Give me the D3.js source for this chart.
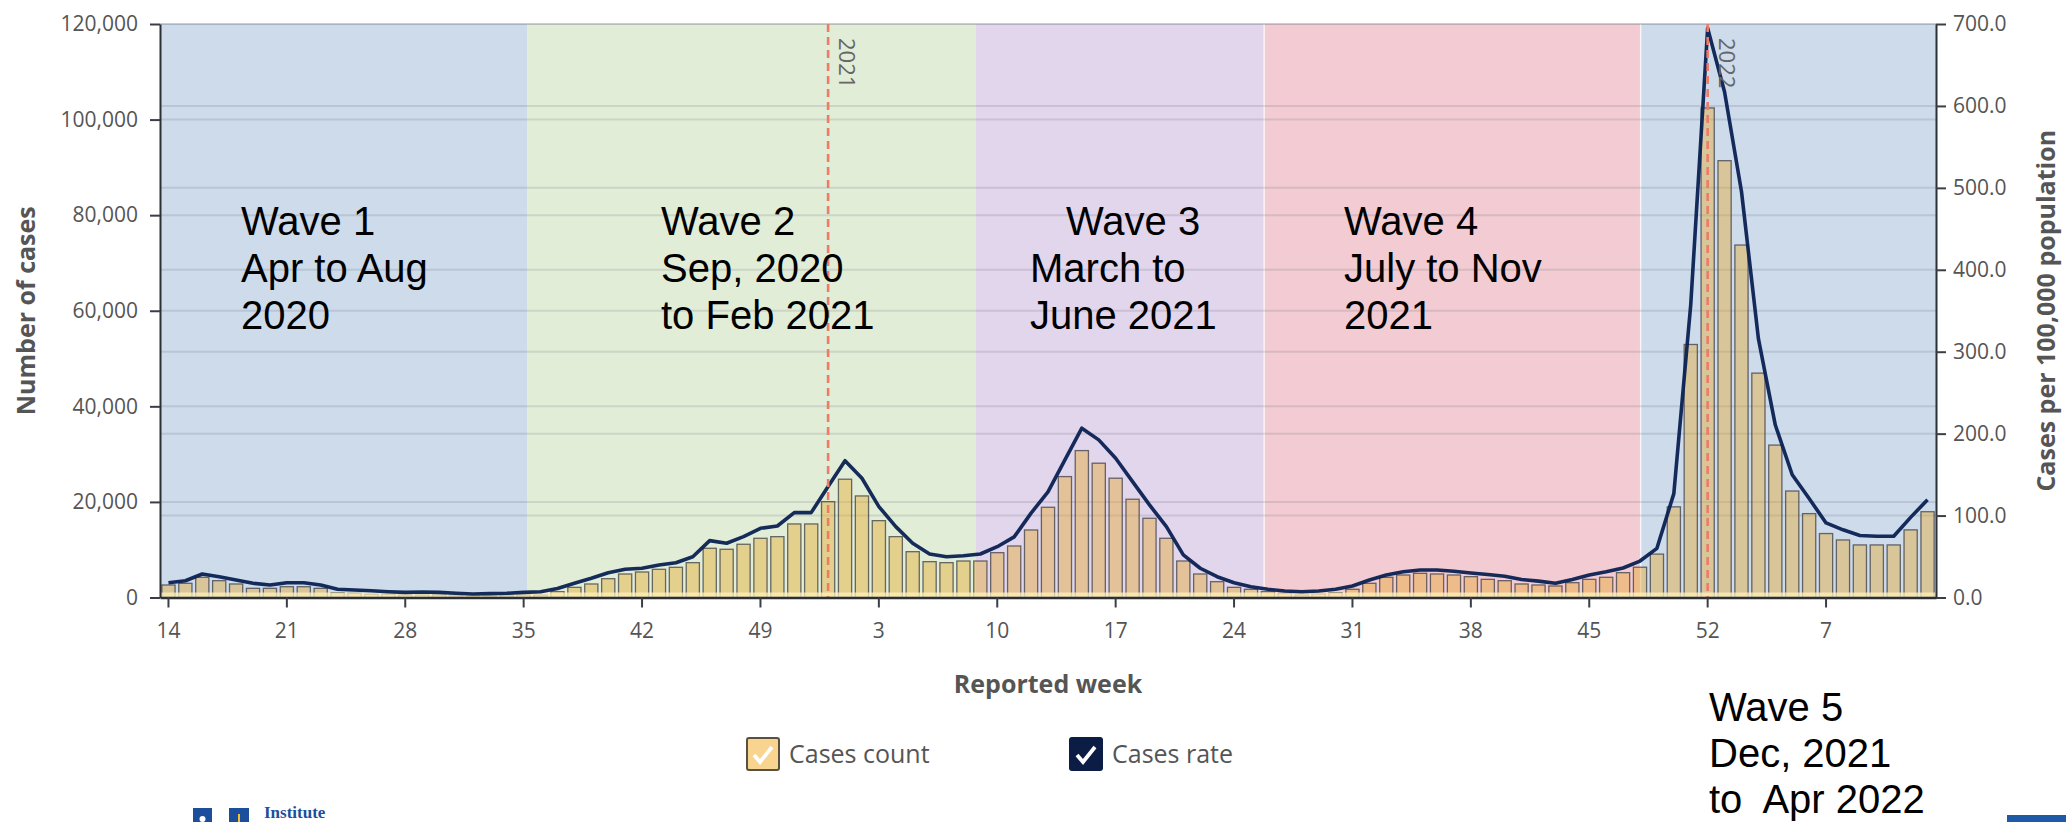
<!DOCTYPE html>
<html>
<head>
<meta charset="utf-8">
<script src="https://cdn.jsdelivr.net/npm/d3@7"></script>
<style>
  body { margin: 0; background: #fff; }
  svg { display: block; }
</style>
</head>
<body>
<script>
'use strict';

// reported weeks: 2020 wk 14 .. 2022 wk 13
const weekLabels = [
  14, 15, 16, 17, 18, 19, 20, 21, 22, 23, 24, 25, 26, 27, 28, 29, 30, 31, 32, 33,
  34, 35, 36, 37, 38, 39, 40, 41, 42, 43, 44, 45, 46, 47, 48, 49, 50, 51, 52, 53,
  1, 2, 3, 4, 5, 6, 7, 8, 9, 10, 11, 12, 13, 14, 15, 16, 17, 18, 19, 20,
  21, 22, 23, 24, 25, 26, 27, 28, 29, 30, 31, 32, 33, 34, 35, 36, 37, 38, 39, 40,
  41, 42, 43, 44, 45, 46, 47, 48, 49, 50, 51, 52,
  1, 2, 3, 4, 5, 6, 7, 8, 9, 10, 11, 12, 13
];

// weekly case counts (left axis)
const casesCount = [
  2620, 2970, 4230, 3520, 2830, 1920, 1920, 2260, 2260, 1920,
  1010, 880, 670, 670, 520, 520, 520, 380, 310, 310,
  380, 520, 520, 1220, 2130, 2830, 3940, 4920, 5340, 5900,
  6320, 7290, 10300, 10090, 11140, 12390, 12730, 15390, 15390, 20060,
  24750, 21250, 16080, 12730, 9590, 7500, 7290, 7640, 7640, 9380,
  10780, 14130, 18880, 25300, 30740, 28100, 24960, 20560, 16580, 12390,
  7640, 4920, 3310, 2130, 1720, 1220, 880, 520, 730, 1010,
  1720, 2970, 4230, 4710, 5060, 4920, 4710, 4360, 3800, 3520,
  2830, 2620, 2410, 3100, 3800, 4230, 5200, 6340, 9080, 18970,
  52940, 102440, 91400, 73750, 46950, 31890, 22280, 17550, 13380, 12040,
  11000, 11000, 11000, 14150, 17950
];

// weekly rate per 100,000 (right axis)
const casesRate = [
  18, 20.5, 28.7, 25.4, 21.4, 17.3, 15.3, 18, 18, 15.3,
  10, 9.2, 8.3, 7.1, 6.3, 6.7, 6.3, 5.1, 4.3, 4.7,
  5.1, 6.3, 7, 11, 17.3, 23.4, 30.3, 34.4, 35.7, 39.7,
  42.5, 49.8, 69.4, 66.2, 74.3, 84.5, 87.3, 103.6, 103.6, 135.4,
  167, 145.6, 111, 86.5, 66.2, 53.1, 49.8, 51, 53.1, 62,
  74, 103, 129, 168, 206.7, 192.4, 170, 141.5, 113, 86.5,
  52, 35.7, 25.4, 18, 13.2, 10, 8, 7, 8, 10,
  14, 21.4, 27.5, 31.5, 33.6, 33.6, 32, 30, 28, 26,
  22, 20, 17.3, 22, 27.5, 31.5, 36, 44.5, 60, 126.8,
  357.5, 695, 617, 495.5, 316, 210.5, 149.8, 120.8, 91, 82.6,
  75.7, 74.8, 74.8, 97.8, 119.4
];

// wave shading, edges in week-index units
const waveEdges = [-0.5, 21.2, 47.74, 64.78, 87.04, 104.5];
const waveColors = ['#cddbeb', '#e2edd7', '#e2d6ec', '#f2ccd2', '#cddbeb'];
const waveNotes = [
  ['Wave 1', 'Apr to Aug', '2020'],
  ['Wave 2', 'Sep, 2020', 'to Feb 2021'],
  ['Wave 3', 'March to', 'June 2021'],
  ['Wave 4', 'July to Nov', '2021'],
  ['Wave 5', 'Dec, 2021', 'to  Apr 2022']
];

// year change markers
const yearLineWeeks = [39, 91];
const yearLineLabels = ['2021', '2022'];

const leftTicks = [0, 20000, 40000, 60000, 80000, 100000, 120000];
const rightTicks = [0, 100, 200, 300, 400, 500, 600, 700];
const legendLabels = ['Cases count', 'Cases rate'];

(function() {

  const W = 2066, H = 822;
  const plot = { left: 160, right: 1936, top: 24, bottom: 597.5 };
  const fontUI = "'Open Sans', 'Noto Sans', sans-serif";
  let svg = null;

  window.onload = function() {
    svg = d3.select('body')
      .append('svg')
      .attr('width', W)
      .attr('height', H);

    let scales = makeScales();
    drawBands(scales);
    drawGrid(scales);
    plotBars(scales);
    plotLine(scales);
    drawYearLines(scales);
    drawAxes(scales);
    makeLabels();
    makeLegend();
    makeNotes();
    makeLogo();
  }

  function makeScales() {
    let xBand = d3.scaleBand()
      .domain(d3.range(casesCount.length))
      .range([plot.left, plot.right])
      .paddingInner(0.22)
      .paddingOuter(0.11);

    // continuous version of the category axis (for bands and lines)
    let xIdx = d3.scaleLinear()
      .domain([-0.5, casesCount.length - 0.5])
      .range([plot.left, plot.right]);

    let yLeft = d3.scaleLinear()
      .domain([0, 120000])
      .range([plot.bottom, plot.top]);

    let yRight = d3.scaleLinear()
      .domain([0, 700])
      .range([plot.bottom, plot.top]);

    return { xBand: xBand, xIdx: xIdx, yLeft: yLeft, yRight: yRight };
  }

  // coloured wave backgrounds
  function drawBands(s) {
    let spans = waveColors.map((c, i) => ({ from: waveEdges[i], to: waveEdges[i + 1], color: c }));
    svg.append('g')
      .selectAll('rect')
      .data(spans)
      .enter()
      .append('rect')
        .attr('x', d => s.xIdx(d.from))
        .attr('y', plot.top)
        .attr('width', d => s.xIdx(d.to) - s.xIdx(d.from))
        .attr('height', plot.bottom - plot.top)
        .attr('fill', d => d.color);

    // thin light seams between the later bands
    svg.append('g')
      .selectAll('line')
      .data(waveEdges.slice(3, 5))
      .enter()
      .append('line')
        .attr('x1', d => s.xIdx(d))
        .attr('x2', d => s.xIdx(d))
        .attr('y1', plot.top)
        .attr('y2', plot.bottom)
        .attr('stroke', 'rgba(255,255,255,0.7)')
        .attr('stroke-width', 1.5);
  }

  // gridlines for both y axes
  function drawGrid(s) {
    let g = svg.append('g');
    let ys = leftTicks.map(s.yLeft).concat(rightTicks.map(s.yRight));
    g.selectAll('line')
      .data(ys)
      .enter()
      .append('line')
        .attr('x1', plot.left)
        .attr('x2', plot.right)
        .attr('y1', d => d)
        .attr('y2', d => d)
        .attr('stroke', 'rgba(80,90,105,0.16)')
        .attr('stroke-width', 2);
  }

  function plotBars(s) {
    svg.append('g')
      .selectAll('.bar')
      .data(casesCount)
      .enter()
      .append('rect')
        .attr('class', 'bar')
        .attr('x', (d, i) => s.xBand(i))
        .attr('y', d => s.yLeft(d))
        .attr('width', s.xBand.bandwidth())
        .attr('height', d => plot.bottom - s.yLeft(d))
        .attr('fill', 'rgba(232,165,30,0.4)')
        .attr('stroke', 'rgba(60,62,70,0.75)')
        .attr('stroke-width', 1.3);

    // pale strip along the base
    svg.append('rect')
      .attr('x', plot.left)
      .attr('y', plot.bottom - 5)
      .attr('width', plot.right - plot.left)
      .attr('height', 5)
      .attr('fill', 'rgba(255,240,185,0.75)');
  }

  function plotLine(s) {
    let line = d3.line()
      .x((d, i) => s.xIdx(i))
      .y(d => s.yRight(d));

    svg.append('path')
      .datum(casesRate)
      .attr('d', line)
      .attr('fill', 'none')
      .attr('stroke', '#0a2152')
      .attr('stroke-opacity', 0.95)
      .attr('stroke-width', 3.6)
      .attr('stroke-linejoin', 'round');
  }

  function drawYearLines(s) {
    let g = svg.append('g');
    yearLineWeeks.forEach((w, i) => {
      let x = s.xIdx(w);
      g.append('line')
        .attr('x1', x)
        .attr('x2', x)
        .attr('y1', plot.top)
        .attr('y2', plot.bottom)
        .attr('stroke', '#ee7b66')
        .attr('stroke-width', 2.6)
        .attr('stroke-dasharray', '8,5');

      g.append('text')
        .attr('transform', 'translate(' + (x + 11) + ',' + 38 + ')rotate(90)')
        .style('font-family', fontUI)
        .style('font-size', '22px')
        .attr('fill', '#666')
        .text(yearLineLabels[i]);
    });
  }

  function styleAxis(g, width) {
    g.select('.domain').attr('stroke', '#2b2f36').attr('stroke-width', width);
    g.selectAll('.tick line').attr('stroke', '#3a3f47').attr('stroke-width', 2);
    g.selectAll('.tick text')
      .style('font-family', fontUI)
      .style('font-size', '21px')
      .attr('fill', '#555');
  }

  // left, right and bottom axes
  function drawAxes(s) {
    let yAxisL = d3.axisLeft(s.yLeft)
      .tickValues(leftTicks)
      .tickFormat(d3.format(','))
      .tickSize(10)
      .tickSizeOuter(0)
      .tickPadding(12);
    svg.append('g')
      .attr('transform', 'translate(' + plot.left + ',0)')
      .call(yAxisL)
      .call(g => styleAxis(g, 2));

    let yAxisR = d3.axisRight(s.yRight)
      .tickValues(rightTicks)
      .tickFormat(d3.format('.1f'))
      .tickSize(10)
      .tickSizeOuter(0)
      .tickPadding(7);
    svg.append('g')
      .attr('transform', 'translate(' + plot.right + ',0)')
      .call(yAxisR)
      .call(g => styleAxis(g, 2));

    let xAxis = d3.axisBottom(s.xBand)
      .tickValues(d3.range(0, weekLabels.length, 7))
      .tickFormat(i => weekLabels[i])
      .tickSize(10)
      .tickSizeOuter(0)
      .tickPadding(16);
    svg.append('g')
      .attr('transform', 'translate(0,' + plot.bottom + ')')
      .call(xAxis)
      .call(g => styleAxis(g, 2.6));
  }

  // axis titles
  function makeLabels() {
    svg.append('text')
      .attr('transform', 'translate(35,' + (plot.top + plot.bottom) / 2 + ')rotate(-90)')
      .attr('text-anchor', 'middle')
      .style('font-family', fontUI)
      .style('font-size', '25px')
      .style('font-weight', 'bold')
      .attr('fill', '#555')
      .text('Number of cases');

    svg.append('text')
      .attr('transform', 'translate(2055,' + (plot.top + plot.bottom) / 2 + ')rotate(-90)')
      .attr('text-anchor', 'middle')
      .style('font-family', fontUI)
      .style('font-size', '25px')
      .style('font-weight', 'bold')
      .attr('fill', '#555')
      .text('Cases per 100,000 population');

    svg.append('text')
      .attr('x', (plot.left + plot.right) / 2)
      .attr('y', 693)
      .attr('text-anchor', 'middle')
      .style('font-family', fontUI)
      .style('font-size', '25px')
      .style('font-weight', 'bold')
      .attr('fill', '#555')
      .text('Reported week');
  }

  function makeLegend() {
    let items = [
      { x: 747, fill: '#f8d48e', stroke: '#5a5040', label: legendLabels[0] },
      { x: 1070, fill: '#0b1d45', stroke: '#0b1d45', label: legendLabels[1] }
    ];
    items.forEach(it => {
      let g = svg.append('g').attr('transform', 'translate(' + it.x + ',738)');
      g.append('rect')
        .attr('width', 32)
        .attr('height', 32)
        .attr('rx', 2)
        .attr('fill', it.fill)
        .attr('stroke', it.stroke)
        .attr('stroke-width', 2);
      g.append('path')
        .attr('d', 'M7,17 L13,24 L25,9')
        .attr('fill', 'none')
        .attr('stroke', '#fff')
        .attr('stroke-width', 3.8);
      g.append('text')
        .attr('x', 42)
        .attr('y', 25)
        .style('font-family', fontUI)
        .style('font-size', '25px')
        .attr('fill', '#555')
        .text(it.label);
    });
  }

  // wave annotations
  function makeNotes() {
    let noteX = [241, 661, 1030, 1344, 1709];
    let noteY = [235, 235, 235, 235, 721];
    let lineGap = [47, 47, 47, 47, 46];
    waveNotes.forEach((lines, i) => {
      let t = svg.append('text')
        .style('font-family', "'Liberation Sans', Arial, sans-serif")
        .style('font-size', '40px')
        .attr('fill', '#000');
      lines.forEach((ln, j) => {
        let dx = (i == 2 && j == 0) ? 36 : 0;
        t.append('tspan')
          .attr('x', noteX[i] + dx)
          .attr('y', noteY[i] + j * lineGap[i])
          .attr('xml:space', 'preserve')
          .text(ln);
      });
    });
  }

  // partial institute logo at the bottom edge
  function makeLogo() {
    let g = svg.append('g');
    g.append('rect').attr('x', 193).attr('y', 808).attr('width', 19).attr('height', 16).attr('fill', '#1b4f9b');
    g.append('circle').attr('cx', 202.5).attr('cy', 819).attr('r', 3).attr('fill', '#fff');
    g.append('rect').attr('x', 229).attr('y', 808).attr('width', 20).attr('height', 16).attr('fill', '#1b4f9b');
    g.append('rect').attr('x', 238).attr('y', 814).attr('width', 2).attr('height', 8).attr('fill', '#f2c230');
    g.append('text')
      .attr('x', 264)
      .attr('y', 818)
      .style('font-family', "'Liberation Serif', 'DejaVu Serif', serif")
      .style('font-size', '17px')
      .style('font-weight', 'bold')
      .attr('fill', '#1b4f9b')
      .text('Institute');

    g.append('rect')
      .attr('x', 2007)
      .attr('y', 815)
      .attr('width', 59)
      .attr('height', 7)
      .attr('fill', '#1f5aa6');
  }

})();
</script>
</body>
</html>
